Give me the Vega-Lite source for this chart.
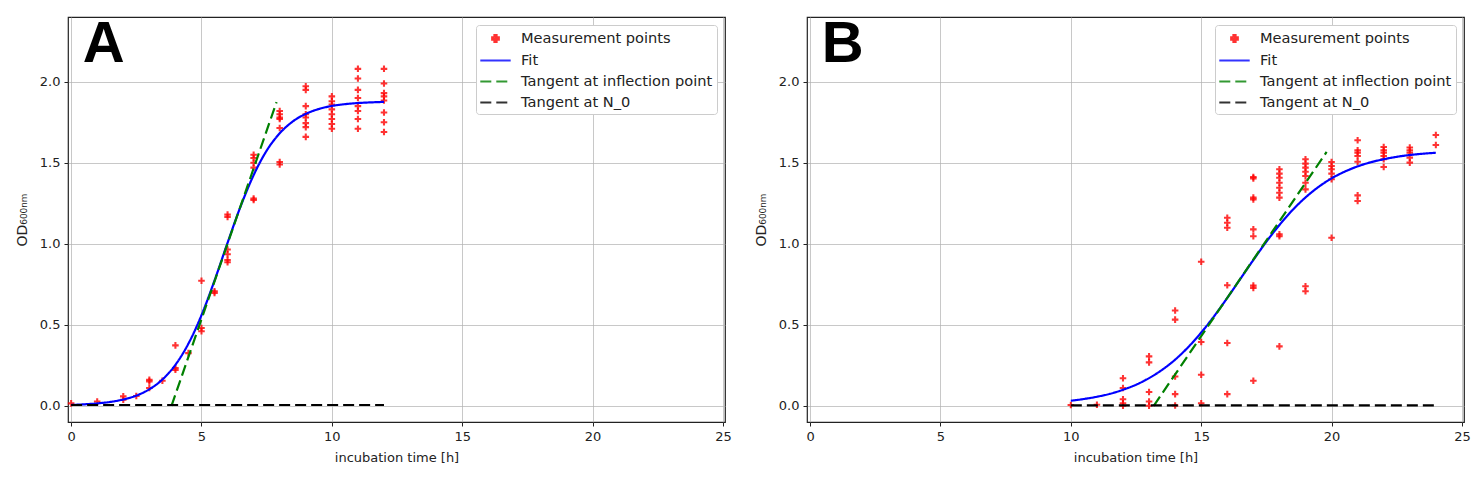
{
  "$schema": "https://vega.github.io/schema/vega-lite/v6.json",
  "description": "Bacterial growth curves with logistic fit and tangents",
  "padding": {"left": 14, "top": 15, "right": 10, "bottom": 5},
  "background": "white",
  "datasets": {
    "a_pts": [
      {"x": 0, "y": 0.015}, {"x": 1, "y": 0.027}, {"x": 2, "y": 0.058}, {"x": 2, "y": 0.037},
      {"x": 2.5, "y": 0.06}, {"x": 3, "y": 0.16}, {"x": 3, "y": 0.15}, {"x": 3, "y": 0.11},
      {"x": 3.5, "y": 0.155}, {"x": 4, "y": 0.373}, {"x": 4, "y": 0.233}, {"x": 4, "y": 0.222},
      {"x": 4.5, "y": 0.325}, {"x": 5, "y": 0.772}, {"x": 5, "y": 0.48}, {"x": 5, "y": 0.46},
      {"x": 5.5, "y": 0.707}, {"x": 5.5, "y": 0.697},
      {"x": 6, "y": 1.18}, {"x": 6, "y": 1.165}, {"x": 6, "y": 0.965}, {"x": 6, "y": 0.935}, {"x": 6, "y": 0.9}, {"x": 6, "y": 0.886},
      {"x": 7, "y": 1.55}, {"x": 7, "y": 1.53}, {"x": 7, "y": 1.5}, {"x": 7, "y": 1.47}, {"x": 7, "y": 1.28}, {"x": 7, "y": 1.27},
      {"x": 8, "y": 1.82}, {"x": 8, "y": 1.8}, {"x": 8, "y": 1.78}, {"x": 8, "y": 1.77}, {"x": 8, "y": 1.715}, {"x": 8, "y": 1.505}, {"x": 8, "y": 1.49},
      {"x": 9, "y": 1.973}, {"x": 9, "y": 1.95}, {"x": 9, "y": 1.85}, {"x": 9, "y": 1.8}, {"x": 9, "y": 1.78}, {"x": 9, "y": 1.745}, {"x": 9, "y": 1.72}, {"x": 9, "y": 1.66},
      {"x": 10, "y": 1.91}, {"x": 10, "y": 1.88}, {"x": 10, "y": 1.86}, {"x": 10, "y": 1.83}, {"x": 10, "y": 1.8}, {"x": 10, "y": 1.77}, {"x": 10, "y": 1.74}, {"x": 10, "y": 1.71},
      {"x": 11, "y": 2.08}, {"x": 11, "y": 2.02}, {"x": 11, "y": 1.95}, {"x": 11, "y": 1.9}, {"x": 11, "y": 1.85}, {"x": 11, "y": 1.82}, {"x": 11, "y": 1.77}, {"x": 11, "y": 1.71},
      {"x": 12, "y": 2.08}, {"x": 12, "y": 1.99}, {"x": 12, "y": 1.93}, {"x": 12, "y": 1.91}, {"x": 12, "y": 1.885}, {"x": 12, "y": 1.81}, {"x": 12, "y": 1.75}, {"x": 12, "y": 1.69}
    ],
    "a_lines": [
      {"s": "Fit", "x": 0, "y": 0.005}, {"s": "Fit", "x": 0.5, "y": 0.009}, {"s": "Fit", "x": 1, "y": 0.015},
      {"s": "Fit", "x": 1.5, "y": 0.024}, {"s": "Fit", "x": 2, "y": 0.039}, {"s": "Fit", "x": 2.5, "y": 0.063},
      {"s": "Fit", "x": 3, "y": 0.102}, {"s": "Fit", "x": 3.5, "y": 0.162}, {"s": "Fit", "x": 4, "y": 0.253},
      {"s": "Fit", "x": 4.5, "y": 0.384}, {"s": "Fit", "x": 5, "y": 0.559}, {"s": "Fit", "x": 5.5, "y": 0.773},
      {"s": "Fit", "x": 6, "y": 1.006}, {"s": "Fit", "x": 6.5, "y": 1.231}, {"s": "Fit", "x": 7, "y": 1.424},
      {"s": "Fit", "x": 7.5, "y": 1.575}, {"s": "Fit", "x": 8, "y": 1.682}, {"s": "Fit", "x": 8.5, "y": 1.755},
      {"s": "Fit", "x": 9, "y": 1.802}, {"s": "Fit", "x": 9.5, "y": 1.832}, {"s": "Fit", "x": 10, "y": 1.851},
      {"s": "Fit", "x": 10.5, "y": 1.862}, {"s": "Fit", "x": 11, "y": 1.869}, {"s": "Fit", "x": 11.5, "y": 1.873},
      {"s": "Fit", "x": 12, "y": 1.876},
      {"s": "Tangent at inflection point", "x": 3.85, "y": 0.0},
      {"s": "Tangent at inflection point", "x": 7.88, "y": 1.875},
      {"s": "Tangent at N_0", "x": 0, "y": 0.005},
      {"s": "Tangent at N_0", "x": 12, "y": 0.005}
    ],
    "b_pts": [
      {"x": 10, "y": 0.005}, {"x": 11, "y": 0.006},
      {"x": 12, "y": 0.17}, {"x": 12, "y": 0.11}, {"x": 12, "y": 0.04}, {"x": 12, "y": 0.016}, {"x": 12, "y": 0.0},
      {"x": 13, "y": 0.305}, {"x": 13, "y": 0.268}, {"x": 13, "y": 0.085}, {"x": 13, "y": 0.027}, {"x": 13, "y": 0.0},
      {"x": 14, "y": 0.588}, {"x": 14, "y": 0.532}, {"x": 14, "y": 0.181}, {"x": 14, "y": 0.072}, {"x": 14, "y": 0.002},
      {"x": 15, "y": 0.889}, {"x": 15, "y": 0.394}, {"x": 15, "y": 0.192}, {"x": 15, "y": 0.016},
      {"x": 16, "y": 1.161}, {"x": 16, "y": 1.13}, {"x": 16, "y": 1.099}, {"x": 16, "y": 0.744}, {"x": 16, "y": 0.388}, {"x": 16, "y": 0.072},
      {"x": 17, "y": 1.412}, {"x": 17, "y": 1.404}, {"x": 17, "y": 1.285}, {"x": 17, "y": 1.274}, {"x": 17, "y": 1.089}, {"x": 17, "y": 1.047}, {"x": 17, "y": 0.742}, {"x": 17, "y": 0.728}, {"x": 17, "y": 0.155},
      {"x": 18, "y": 1.46}, {"x": 18, "y": 1.433}, {"x": 18, "y": 1.408}, {"x": 18, "y": 1.377}, {"x": 18, "y": 1.346}, {"x": 18, "y": 1.315}, {"x": 18, "y": 1.285}, {"x": 18, "y": 1.058}, {"x": 18, "y": 1.047}, {"x": 18, "y": 0.367},
      {"x": 19, "y": 1.522}, {"x": 19, "y": 1.495}, {"x": 19, "y": 1.47}, {"x": 19, "y": 1.445}, {"x": 19, "y": 1.419}, {"x": 19, "y": 1.377}, {"x": 19, "y": 1.336}, {"x": 19, "y": 0.738}, {"x": 19, "y": 0.707},
      {"x": 20, "y": 1.505}, {"x": 20, "y": 1.48}, {"x": 20, "y": 1.46}, {"x": 20, "y": 1.433}, {"x": 20, "y": 1.398}, {"x": 20, "y": 1.037},
      {"x": 21, "y": 1.639}, {"x": 21, "y": 1.577}, {"x": 21, "y": 1.563}, {"x": 21, "y": 1.542}, {"x": 21, "y": 1.507}, {"x": 21, "y": 1.299}, {"x": 21, "y": 1.264},
      {"x": 22, "y": 1.598}, {"x": 22, "y": 1.577}, {"x": 22, "y": 1.563}, {"x": 22, "y": 1.542}, {"x": 22, "y": 1.522}, {"x": 22, "y": 1.474},
      {"x": 23, "y": 1.594}, {"x": 23, "y": 1.577}, {"x": 23, "y": 1.563}, {"x": 23, "y": 1.532}, {"x": 23, "y": 1.501},
      {"x": 24, "y": 1.672}, {"x": 24, "y": 1.61}
    ],
    "b_lines": [
      {"s": "Fit", "x": 10, "y": 0.031}, {"s": "Fit", "x": 10.5, "y": 0.042}, {"s": "Fit", "x": 11, "y": 0.056},
      {"s": "Fit", "x": 11.5, "y": 0.074}, {"s": "Fit", "x": 12, "y": 0.099}, {"s": "Fit", "x": 12.5, "y": 0.13},
      {"s": "Fit", "x": 13, "y": 0.171}, {"s": "Fit", "x": 13.5, "y": 0.222}, {"s": "Fit", "x": 14, "y": 0.285},
      {"s": "Fit", "x": 14.5, "y": 0.362}, {"s": "Fit", "x": 15, "y": 0.452}, {"s": "Fit", "x": 15.5, "y": 0.554},
      {"s": "Fit", "x": 16, "y": 0.666}, {"s": "Fit", "x": 16.5, "y": 0.783}, {"s": "Fit", "x": 17, "y": 0.9},
      {"s": "Fit", "x": 17.5, "y": 1.013}, {"s": "Fit", "x": 18, "y": 1.116}, {"s": "Fit", "x": 18.5, "y": 1.208},
      {"s": "Fit", "x": 19, "y": 1.286}, {"s": "Fit", "x": 19.5, "y": 1.351}, {"s": "Fit", "x": 20, "y": 1.404},
      {"s": "Fit", "x": 20.5, "y": 1.445}, {"s": "Fit", "x": 21, "y": 1.478}, {"s": "Fit", "x": 21.5, "y": 1.503},
      {"s": "Fit", "x": 22, "y": 1.522}, {"s": "Fit", "x": 22.5, "y": 1.537}, {"s": "Fit", "x": 23, "y": 1.548},
      {"s": "Fit", "x": 23.5, "y": 1.556}, {"s": "Fit", "x": 24, "y": 1.562},
      {"s": "Tangent at inflection point", "x": 13.18, "y": 0.0},
      {"s": "Tangent at inflection point", "x": 19.81, "y": 1.567},
      {"s": "Tangent at N_0", "x": 10, "y": 0.003},
      {"s": "Tangent at N_0", "x": 24, "y": 0.003}
    ],
    "labels": [
      {"panel": "A", "x": 0.45, "y": 2.12},
      {"panel": "B", "x": 0.45, "y": 2.12}
    ]
  },
  "resolve": {
    "scale": {"color": "independent", "shape": "independent", "strokeDash": "independent"},
    "legend": {"color": "independent", "shape": "independent", "strokeDash": "independent"}
  },
  "hconcat": [
    {
      "width": 657,
      "height": 405,
      "layer": [
        {
          "data": {"name": "a_pts"},
          "transform": [{"calculate": "'Measurement points'", "as": "s"}],
          "mark": {"type": "point", "filled": true, "size": 256, "opacity": 0.8},
          "encoding": {
            "x": {"field": "x", "type": "quantitative", "scale": {"domain": [-0.12, 25.08], "nice": false, "zero": false}, "axis": {"values": [0, 5, 10, 15, 20, 25], "title": "incubation time [h]"}},
            "y": {"field": "y", "type": "quantitative", "scale": {"domain": [-0.1, 2.4], "nice": false}, "axis": {"values": [0, 0.5, 1, 1.5, 2], "format": ".1f", "title": "OD₆₀₀ₙₘ"}},
            "color": {"field": "s", "type": "nominal", "scale": {"domain": ["Measurement points", "Fit", "Tangent at inflection point", "Tangent at N_0"], "range": ["#ff0000", "#0000ff", "#008000", "#000000"]}, "legend": {"title": null, "orient": "top-right"}},
            "shape": {"field": "s", "type": "nominal", "scale": {"domain": ["Measurement points", "Fit", "Tangent at inflection point", "Tangent at N_0"], "range": ["M-0.13,-0.41H0.13V-0.13H0.41V0.13H0.13V0.41H-0.13V0.13H-0.41V-0.13H-0.13Z", "M-1.9,0H1.9", "M-1.9,0H1.9", "M-1.9,0H1.9"]}, "legend": {"title": null, "orient": "top-right"}}
          }
        },
        {
          "data": {"name": "a_lines"},
          "mark": {"type": "line", "strokeWidth": 2.2, "interpolate": "monotone"},
          "encoding": {
            "x": {"field": "x", "type": "quantitative"},
            "y": {"field": "y", "type": "quantitative"},
            "color": {"field": "s", "type": "nominal", "legend": {"title": null, "orient": "top-right"}},
            "strokeDash": {"field": "s", "type": "nominal", "scale": {"domain": ["Measurement points", "Fit", "Tangent at inflection point", "Tangent at N_0"], "range": [[1, 0], [1, 0], [11, 5], [11, 5]]}, "legend": {"title": null, "orient": "top-right"}}
          }
        },
        {
          "data": {"name": "labels"},
          "transform": [{"filter": "datum.panel == 'A'"}],
          "mark": {"type": "text", "font": "Liberation Sans", "fontSize": 58, "fontWeight": "bold", "align": "left", "baseline": "alphabetic", "color": "black"},
          "encoding": {
            "x": {"field": "x", "type": "quantitative"},
            "y": {"field": "y", "type": "quantitative"},
            "text": {"field": "panel"}
          }
        }
      ]
    },
    {
      "width": 657,
      "height": 405,
      "layer": [
        {
          "data": {"name": "b_pts"},
          "transform": [{"calculate": "'Measurement points'", "as": "s"}],
          "mark": {"type": "point", "filled": true, "size": 256, "opacity": 0.8},
          "encoding": {
            "x": {"field": "x", "type": "quantitative", "scale": {"domain": [-0.12, 25.08], "nice": false, "zero": false}, "axis": {"values": [0, 5, 10, 15, 20, 25], "title": "incubation time [h]"}},
            "y": {"field": "y", "type": "quantitative", "scale": {"domain": [-0.1, 2.4], "nice": false}, "axis": {"values": [0, 0.5, 1, 1.5, 2], "format": ".1f", "title": "OD₆₀₀ₙₘ"}},
            "color": {"field": "s", "type": "nominal", "scale": {"domain": ["Measurement points", "Fit", "Tangent at inflection point", "Tangent at N_0"], "range": ["#ff0000", "#0000ff", "#008000", "#000000"]}, "legend": {"title": null, "orient": "top-right"}},
            "shape": {"field": "s", "type": "nominal", "scale": {"domain": ["Measurement points", "Fit", "Tangent at inflection point", "Tangent at N_0"], "range": ["M-0.13,-0.41H0.13V-0.13H0.41V0.13H0.13V0.41H-0.13V0.13H-0.41V-0.13H-0.13Z", "M-1.9,0H1.9", "M-1.9,0H1.9", "M-1.9,0H1.9"]}, "legend": {"title": null, "orient": "top-right"}}
          }
        },
        {
          "data": {"name": "b_lines"},
          "mark": {"type": "line", "strokeWidth": 2.2, "interpolate": "monotone"},
          "encoding": {
            "x": {"field": "x", "type": "quantitative"},
            "y": {"field": "y", "type": "quantitative"},
            "color": {"field": "s", "type": "nominal", "legend": {"title": null, "orient": "top-right"}},
            "strokeDash": {"field": "s", "type": "nominal", "scale": {"domain": ["Measurement points", "Fit", "Tangent at inflection point", "Tangent at N_0"], "range": [[1, 0], [1, 0], [11, 5], [11, 5]]}, "legend": {"title": null, "orient": "top-right"}}
          }
        },
        {
          "data": {"name": "labels"},
          "transform": [{"filter": "datum.panel == 'B'"}],
          "mark": {"type": "text", "font": "Liberation Sans", "fontSize": 58, "fontWeight": "bold", "align": "left", "baseline": "alphabetic", "color": "black"},
          "encoding": {
            "x": {"field": "x", "type": "quantitative"},
            "y": {"field": "y", "type": "quantitative"},
            "text": {"field": "panel"}
          }
        }
      ]
    }
  ],
  "spacing": 21,
  "config": {
    "font": "DejaVu Sans",
    "view": {"stroke": "#222222", "strokeWidth": 1.2},
    "axis": {
      "grid": true,
      "gridColor": "#b0b0b0",
      "gridOpacity": 0.7,
      "gridWidth": 1,
      "domain": false,
      "ticks": true,
      "tickColor": "#222222",
      "tickSize": 4,
      "labelFont": "DejaVu Sans",
      "labelFontSize": 13,
      "labelColor": "#222222",
      "labelPadding": 4,
      "titleFont": "DejaVu Sans",
      "titleFontSize": 13,
      "titleFontWeight": "normal",
      "titleColor": "#222222",
      "titlePadding": 6
    },
    "axisX": {"titlePadding": 8},
    "axisY": {"titlePadding": 10, "titleFontSize": 14},
    "legend": {
      "orient": "top-right",
      "offset": 8,
      "padding": 4,
      "strokeColor": "#cccccc",
      "cornerRadius": 3,
      "fillColor": "white",
      "labelFont": "DejaVu Sans",
      "labelFontSize": 14.6,
      "labelColor": "#222222",
      "labelOffset": 16,
      "labelLimit": 300,
      "symbolSize": 256,
      "symbolOffset": 6,
      "symbolStrokeWidth": 2.2,
      "rowPadding": 4
    }
  }
}
